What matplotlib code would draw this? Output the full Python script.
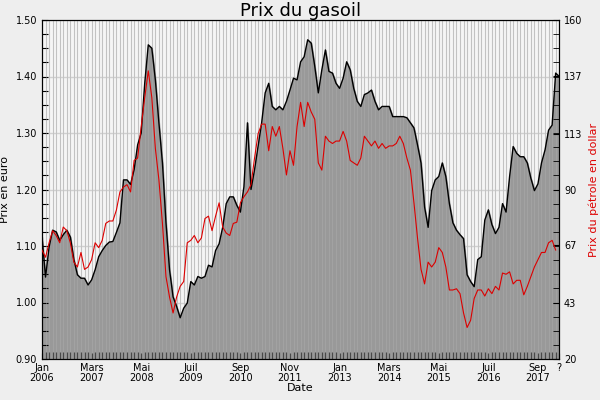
import matplotlib.pyplot as plt
import numpy as np

# monthly values, Jan 2006 onwards
gasoil_euro = [1.116, 1.045, 1.098, 1.128, 1.125, 1.11, 1.12, 1.128, 1.116, 1.076,
               1.049, 1.043, 1.043, 1.031, 1.040, 1.058, 1.081, 1.092, 1.101, 1.107,
               1.108, 1.124, 1.141, 1.217, 1.217, 1.209, 1.235, 1.279, 1.30, 1.388,
               1.456, 1.450, 1.394, 1.318, 1.247, 1.141, 1.058, 1.010, 0.993, 0.973,
               0.99, 0.999, 1.037, 1.031, 1.046, 1.043, 1.046, 1.066, 1.063, 1.092,
               1.104, 1.133, 1.175, 1.187, 1.187, 1.172, 1.16, 1.205, 1.318, 1.20,
               1.235, 1.276, 1.318, 1.371, 1.388, 1.347, 1.341, 1.347, 1.341, 1.356,
               1.376, 1.397, 1.394, 1.426, 1.435, 1.465, 1.459, 1.418, 1.371, 1.412,
               1.447, 1.409, 1.406, 1.388, 1.379, 1.397, 1.426, 1.412, 1.379, 1.356,
               1.347, 1.368, 1.371, 1.376, 1.356, 1.341, 1.347, 1.347, 1.347, 1.329,
               1.329, 1.329, 1.329, 1.327, 1.318, 1.309, 1.279, 1.247, 1.169, 1.133,
               1.198, 1.217, 1.223, 1.247, 1.223, 1.175, 1.141, 1.128, 1.12, 1.113,
               1.049, 1.037, 1.028, 1.076, 1.081, 1.146, 1.164, 1.138, 1.122, 1.133,
               1.175, 1.16, 1.223, 1.276, 1.264, 1.258, 1.258, 1.247, 1.22, 1.198,
               1.21, 1.247, 1.27, 1.305, 1.314, 1.406, 1.40]

petrole_dollar = [65, 62, 68, 73, 71, 68, 74.5, 73, 68, 60,
                  58, 64, 57, 58, 61, 68, 66, 69, 76, 77,
                  77, 81.5, 89, 91, 92, 89, 102, 103, 116, 128,
                  139, 128, 107, 94, 76, 54, 45.6, 39, 45.6, 50,
                  52, 68, 69, 71, 68, 70, 78, 79, 73, 79,
                  84.5, 74.5, 72, 71, 76, 76.5, 84.5, 87, 89, 92,
                  103, 113, 117, 117, 106, 116, 112, 116, 107, 96,
                  106, 100, 116, 126, 116, 126, 122, 119, 101, 98,
                  112, 110, 109, 110, 110, 114, 110, 102, 101, 100,
                  103, 112, 110, 108, 110, 107, 109, 107, 108, 108,
                  109, 112, 109, 103, 98, 84.5, 70, 57, 51, 60,
                  58, 60, 66, 64, 58, 48.5, 48.5, 49, 47, 39,
                  33, 36, 45, 48.5, 48.5, 46, 49, 47, 50, 48.5,
                  55.5, 55, 56, 51, 52.5, 52.5, 46.5, 50, 54, 58,
                  61, 64, 64, 68, 69, 65]

tick_labels = ["Jan\n2006", "Mars\n2007", "Mai\n2008", "Juil\n2009", "Sep\n2010",
               "Nov\n2011", "Jan\n2013", "Mars\n2014", "Mai\n2015", "Juil\n2016",
               "Sep\n2017", "?"]
tick_months = [0, 14, 28, 42, 56, 70, 84, 98, 112, 126, 140, 146]

x_e = np.arange(len(gasoil_euro))
x_p = np.arange(len(petrole_dollar))

fig = plt.figure(figsize=(6, 4), dpi=100, facecolor='#eeeeee')
ax = fig.add_axes([0.07, 0.1025, 0.862, 0.8475])
ax.set_facecolor('#f5f5f5')

for m in range(len(gasoil_euro)):
    ax.axvline(m, color='#cfcfcf', lw=0.8, zorder=0)
for v in np.arange(0.9, 1.51, 0.1):
    ax.axhline(v, color='#d0d0d0', lw=1, zorder=0)

ax.fill_between(x_e, 0.9, gasoil_euro, color='#999999', zorder=1)
for m in range(len(gasoil_euro)):
    ax.axvline(m, color='#b0b0b0', lw=0.6, alpha=0.5, zorder=2)
ax.plot(x_e, gasoil_euro, color='black', lw=1, zorder=4)

ax.set_xlim(0, len(gasoil_euro) - 1)
ax.set_ylim(0.9, 1.5)
ax.set_yticks(np.arange(0.9, 1.51, 0.1))
ax.set_yticklabels([f"{v:.2f}" for v in np.arange(0.9, 1.51, 0.1)], fontsize=7)
ax.set_yticks(np.arange(0.9, 1.5, 0.025), minor=True)
ax.set_xticks(tick_months)
ax.set_xticklabels(tick_labels, fontsize=7, linespacing=1.0)
ax.set_xticks(range(len(gasoil_euro)), minor=True)
ax.tick_params(direction='in', length=4, which='both', width=0.8)
ax.tick_params(axis='x', which='minor', length=5)
ax.tick_params(axis='x', pad=3)
ax.set_ylabel("Prix en euro", fontsize=8)
ax.set_xlabel("Date", fontsize=8, labelpad=0)
ax.set_title("Prix du gasoil", fontsize=13, pad=3)

ax2 = ax.twinx()
ax2.plot(x_p, petrole_dollar, color='#dd0000', lw=0.8, zorder=5)
ax2.set_ylim(20, 160)
ax2.set_yticks([20, 43, 67, 90, 113, 137, 160])
ax2.set_yticklabels(["20", "43", "67", "90", "113", "137", "160"], fontsize=7)
ax2.set_yticks(np.linspace(20, 160, 25), minor=True)
ax2.tick_params(direction='in', length=4, which='both')
ax2.set_ylabel("Prix du pétrole en dollar", color='#dd0000', fontsize=8)

fig.savefig("out.png", dpi=100, facecolor=fig.get_facecolor())
